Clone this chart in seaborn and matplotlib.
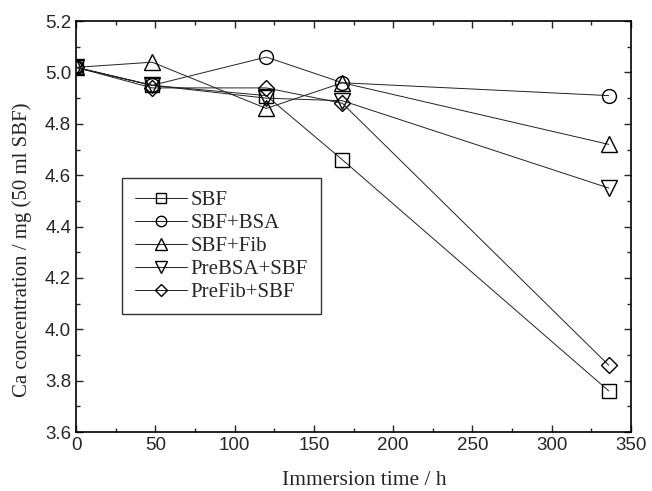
import numpy as np
import pandas as pd
import matplotlib
matplotlib.use("Agg")
import matplotlib.pyplot as plt
from matplotlib.ticker import MultipleLocator, FormatStrFormatter
import seaborn as sns

# immersion time (h)
hours = [0, 48, 120, 168, 336]

# Ca concentration, mg (50 ml SBF)
sbf = [5.02, 4.95, 4.91, 4.66, 3.76]
sbf_bsa = [5.02, 4.95, 5.06, 4.96, 4.91]
sbf_fib = [5.02, 5.04, 4.86, 4.96, 4.72]
prebsa_sbf = [5.02, 4.95, 4.90, 4.89, 4.55]
prefib_sbf = [5.02, 4.94, 4.94, 4.88, 3.86]

labels = ["SBF", "SBF+BSA", "SBF+Fib", "PreBSA+SBF", "PreFib+SBF"]
markers = ["s", "o", "^", "v", "D"]
sizes = [9.5, 10, 11, 11, 8.5]

series = [sbf, sbf_bsa, sbf_fib, prebsa_sbf, prefib_sbf]

sns.set_style("ticks")
plt.rcParams["font.family"] = ["Liberation Sans", "DejaVu Sans"]

fig = plt.figure(figsize=(6.52, 4.91), dpi=100)
ax = fig.add_axes([0.1166, 0.120, 0.8512, 0.837])

for lab, vals, m, s in zip(labels, series, markers, sizes):
    df = pd.DataFrame({"t": hours, "ca": vals})
    sns.lineplot(data=df, x="t", y="ca", ax=ax, color="#222222", lw=0.7,
                 marker=m, markersize=s, markerfacecolor="none",
                 markeredgecolor="black", markeredgewidth=1.0, label=lab)

ax.set_xlim(0, 350)
ax.set_ylim(3.6, 5.2)
ax.xaxis.set_major_locator(MultipleLocator(50))
ax.xaxis.set_minor_locator(MultipleLocator(25))
ax.yaxis.set_major_locator(MultipleLocator(0.2))
ax.yaxis.set_minor_locator(MultipleLocator(0.1))
ax.yaxis.set_major_formatter(FormatStrFormatter("%.1f"))
ax.tick_params(which="both", direction="in", top=True, right=True, width=1.0)
ax.tick_params(which="major", length=5, labelsize=13.5)
ax.tick_params(which="minor", length=3)
for sp in ax.spines.values():
    sp.set_linewidth(1.2)
    sp.set_color("black")

ax.set_xlabel("Immersion time / h", fontsize=15.5, family="Liberation Serif",
              va="center")
ax.set_ylabel("Ca concentration / mg (50 ml SBF)", fontsize=15,
              family="Liberation Serif", va="center")
ax.xaxis.set_label_coords(0.519, -0.117)
ax.yaxis.set_label_coords(-0.097, 0.443)

leg = ax.legend(loc="upper left", bbox_to_anchor=(0.083, 0.618),
                borderaxespad=0,
                prop={"family": "Liberation Serif", "size": 15},
                frameon=True, fancybox=False, edgecolor="black",
                handlelength=2.5, labelspacing=0.16, borderpad=0.6,
                handletextpad=0.2, markerscale=0.75)
leg.get_frame().set_linewidth(1.0)

fig.savefig("out.png", dpi=100)
